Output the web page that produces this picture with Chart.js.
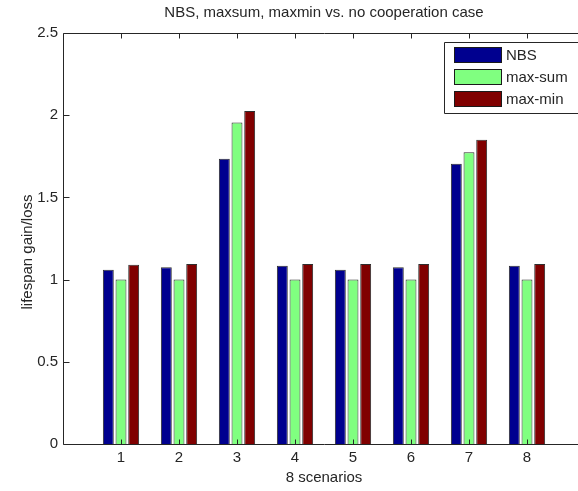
<!DOCTYPE html>
<html>
<head>
<meta charset="utf-8">
<script src="https://cdn.jsdelivr.net/npm/chart.js@4/dist/chart.umd.min.js"></script>
<style>
  html, body { margin: 0; padding: 0; background: #fff; overflow: hidden; width: 578px; height: 491px; }
  #wrap { position: absolute; left: 0; top: 0; width: 600px; height: 491px; }
  #c { display: block; width: 600px; height: 491px; }
</style>
</head>
<body>
<div id="wrap"><canvas id="c" width="600" height="491"></canvas></div>
<script>
// Scenario labels and the three allocation schemes
const scenarios = ['1', '2', '3', '4', '5', '6', '7', '8'];
const nbs    = [1.06, 1.075, 1.735, 1.085, 1.06, 1.075, 1.705, 1.085];
const maxSum = [1.00, 1.00, 1.955, 1.00, 1.00, 1.00, 1.775, 1.00];
const maxMin = [1.09, 1.095, 2.025, 1.095, 1.095, 1.095, 1.85, 1.095];
const seriesNames = ['NBS', 'max-sum', 'max-min'];
const yTickValues = [0, 0.5, 1, 1.5, 2, 2.5];

const FONT = "'Liberation Sans', Arial, Helvetica, sans-serif";
const TEXT = '#262626';
const AXIS = '#262626';

const toPoints = vals => vals.map((v, i) => ({ x: i + 1, y: v }));

// Axes lines, inward tick marks, y label and in-axes legend
const frame = {
  id: 'frame',
  afterDraw(chart) {
    const { ctx, chartArea: a, scales: { x, y } } = chart;
    ctx.save();
    ctx.strokeStyle = AXIS;
    ctx.lineWidth = 1;
    const L = a.left + 0.5, R = a.right + 0.5, T = a.top + 0.5, B = a.bottom + 0.5;
    ctx.beginPath();
    ctx.moveTo(L, T); ctx.lineTo(R, T);
    ctx.moveTo(L, B); ctx.lineTo(R, B);
    ctx.moveTo(L, T); ctx.lineTo(L, B);
    const tl = 5;
    scenarios.forEach((_, i) => {
      const px = Math.round(x.getPixelForValue(i + 1)) + 0.5;
      ctx.moveTo(px, B); ctx.lineTo(px, B - tl);
      ctx.moveTo(px, T); ctx.lineTo(px, T + tl);
    });
    yTickValues.forEach(v => {
      const py = Math.round(y.getPixelForValue(v)) + 0.5;
      ctx.moveTo(L, py); ctx.lineTo(L + tl + 1, py);
    });
    ctx.stroke();

    // y-axis label
    ctx.fillStyle = TEXT;
    ctx.font = '15px ' + FONT;
    ctx.textAlign = 'center';
    ctx.textBaseline = 'middle';
    ctx.translate(28, 252);
    ctx.rotate(-Math.PI / 2);
    ctx.fillText('lifespan gain/loss', 0, 0);
    ctx.setTransform(1, 0, 0, 1, 0, 0);

    // legend (its right edge lies beyond the visible window)
    ctx.fillStyle = '#fff';
    ctx.fillRect(445, 43, 150, 70);
    ctx.beginPath();
    ctx.moveTo(600, 42.5); ctx.lineTo(444.5, 42.5); ctx.lineTo(444.5, 113.5); ctx.lineTo(600, 113.5);
    ctx.strokeStyle = AXIS;
    ctx.stroke();
    chart.data.datasets.forEach((ds, i) => {
      const cy = 55 + i * 22;
      ctx.fillStyle = ds.backgroundColor;
      ctx.fillRect(454, cy - 8, 48, 16);
      ctx.strokeStyle = '#1a1a1a';
      ctx.strokeRect(454.5, cy - 7.5, 47, 15);
      ctx.fillStyle = TEXT;
      ctx.font = '15px ' + FONT;
      ctx.textAlign = 'left';
      ctx.textBaseline = 'middle';
      ctx.fillText(ds.label, 506, cy + 1);
    });
    ctx.restore();
  }
};

const colors = ['#00008f', '#80ff80', '#800000'];
const seriesData = [nbs, maxSum, maxMin];

new Chart(document.getElementById('c'), {
  type: 'bar',
  data: {
    datasets: seriesData.map((vals, i) => ({
      label: seriesNames[i],
      data: toPoints(vals),
      backgroundColor: colors[i],
      borderColor: '#2e2e2e',
      borderWidth: 1,
      categoryPercentage: 0.656,
      barPercentage: 0.86
    }))
  },
  options: {
    responsive: false,
    maintainAspectRatio: false,
    animation: false,
    devicePixelRatio: 1,
    layout: { padding: { left: 0, right: 15, top: 0, bottom: 0 } },
    plugins: {
      legend: { display: false },
      tooltip: { enabled: false },
      title: {
        display: true,
        text: 'NBS, maxsum, maxmin vs. no cooperation case',
        fullSize: false,
        color: TEXT,
        font: { family: FONT, size: 15, weight: 'normal' },
        padding: { top: 4, bottom: 11 }
      }
    },
    scales: {
      x: {
        type: 'linear',
        min: 0,
        max: 9,
        offset: false,
        grid: { display: false, drawTicks: false, offset: false },
        border: { display: false },
        afterFit(scale) { scale.height = 47; scale.paddingLeft = 0; scale.paddingRight = 0; },
        afterBuildTicks(scale) {
          scale.ticks = Array.from({ length: 10 }, (_, i) => ({ value: i }));
        },
        ticks: {
          autoSkip: false,
          maxRotation: 0,
          padding: 5,
          color: TEXT,
          font: { family: FONT, size: 15 },
          callback: v => (v >= 1 && v <= scenarios.length ? scenarios[v - 1] : '')
        },
        title: {
          display: true,
          text: '8 scenarios',
          color: TEXT,
          font: { family: FONT, size: 15 },
          padding: { top: 2, bottom: 4 }
        }
      },
      y: {
        min: 0,
        max: 2.5,
        grid: { display: false, drawTicks: false },
        border: { display: false },
        afterFit(scale) { scale.width = 63; },
        afterBuildTicks(scale) {
          scale.ticks = yTickValues.map(v => ({ value: v }));
        },
        ticks: {
          padding: 5,
          color: TEXT,
          font: { family: FONT, size: 15 },
          callback: v => String(v)
        }
      }
    }
  },
  plugins: [frame]
});
</script>
</body>
</html>
